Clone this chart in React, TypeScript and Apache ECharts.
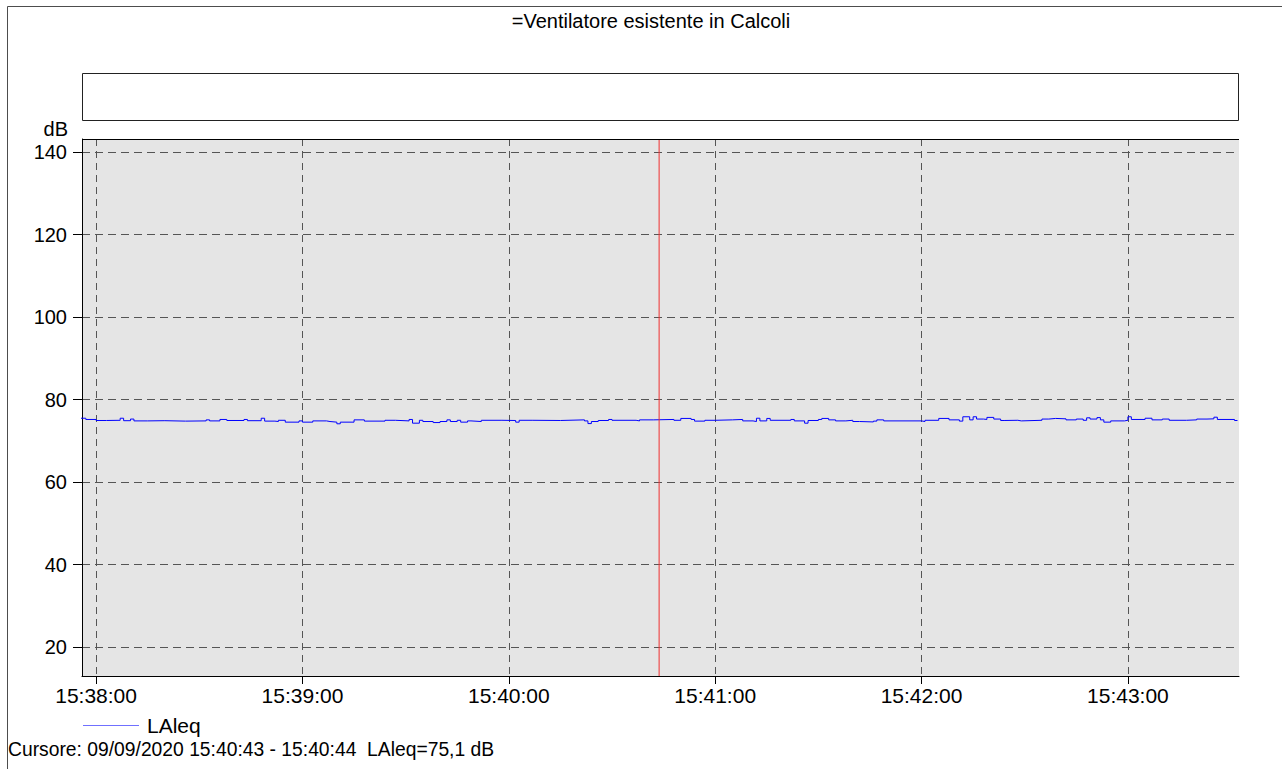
import React, { useEffect, useRef } from "react";
import * as echarts from "echarts";

// Measurement: LAleq, 1 s samples, seconds relative to 09/09/2020 15:38:00
const levelSteps: [number, number][] = [
  [-5, 75.5], [-3, 75.2], [0, 74.95], [3, 75.0], [7, 75.5], [8, 74.9], [10, 75.3], [11, 74.85],
  [15, 74.9], [20, 74.8], [26, 74.85], [32, 75.1], [33, 74.85], [36, 75.2], [38, 74.95], [43, 75.2],
  [44, 74.9], [48, 75.5], [49, 74.8], [52, 74.7], [53, 75.0], [55, 74.55], [59, 74.85], [60, 74.55],
  [63, 74.85], [67, 74.7], [68, 74.55], [70, 74.15], [71, 74.55], [75, 75.1], [78, 74.8], [84, 75.0],
  [87, 74.85], [91, 75.2], [92, 74.3], [94, 75.0], [95, 74.7], [98, 74.45], [100, 74.7], [102, 75.1],
  [103, 74.7], [105, 75.0], [106, 74.55], [108, 74.85], [109, 74.7], [112, 75.0], [118, 74.95], [122, 74.55],
  [123, 75.0], [127, 74.95], [135, 75.1], [142, 74.85], [143, 74.2], [144, 74.7], [146, 74.95], [149, 75.2],
  [150, 75.0], [157, 74.85], [158, 75.1], [162, 75.2], [168, 75.0], [170, 75.45], [173, 75.2], [174, 74.8],
  [177, 75.0], [180, 75.1], [185, 75.2], [188, 74.85], [191, 74.7], [192, 75.5], [193, 74.85], [195, 75.45],
  [196, 75.0], [202, 75.2], [203, 74.85], [206, 74.3], [207, 74.95], [210, 75.2], [211, 75.45], [213, 75.1],
  [215, 74.85], [218, 75.0], [220, 74.7], [222, 74.6], [226, 74.8], [227, 75.1], [229, 74.85], [240, 74.7],
  [241, 75.0], [245, 75.45], [248, 75.1], [251, 74.8], [252, 75.85], [254, 75.1], [255, 75.85], [256, 75.3],
  [258, 75.2], [259, 75.7], [261, 75.3], [263, 74.95], [264, 75.0], [268, 74.85], [269, 75.0], [275, 75.3],
  [277, 75.45], [279, 75.35], [282, 75.1], [285, 75.3], [287, 75.0], [288, 75.6], [289, 75.3], [291, 75.65],
  [292, 75.1], [293, 74.55], [295, 74.85], [299, 75.0], [300, 75.85], [301, 75.2], [305, 75.5], [307, 75.1],
  [310, 75.3], [312, 75.0], [317, 75.1], [320, 75.3], [323, 75.35], [325, 75.75], [326, 75.2], [331, 74.95],
  [332.3, 74.95],
];

const startClock = [15, 38, 0]; // time of second 0
const xRangeSec = [-4.1, 332.3];
const xTickSec = [0, 60, 120, 180, 240, 300];
const yRange = [13, 143.2];
const yTicks = [20, 40, 60, 80, 100, 120, 140];
const cursorSec = 163.7;
const titleText = "=Ventilatore esistente in Calcoli";
const seriesName = "LAleq";
const unitLabel = "dB";
const cursorText = "Cursore: 09/09/2020 15:40:43 - 15:40:44  LAleq=75,1 dB";

const FONT = "'Liberation Sans', Arial, Helvetica, sans-serif";

const pad = (n: number) => (n < 10 ? "0" + n : "" + n);
const clock = (sec: number) => {
  const total = startClock[0] * 3600 + startClock[1] * 60 + startClock[2] + Math.round(sec);
  const h = Math.floor(total / 3600);
  const m = Math.floor((total % 3600) / 60);
  const s = total % 60;
  return pad(h) + ":" + pad(m) + ":" + pad(s);
};

export default function App() {
  const ref = useRef<HTMLDivElement>(null);
  useEffect(() => {
    if (!ref.current) return;
    const chart = echarts.init(ref.current, undefined, { renderer: "svg" });

    chart.setOption({
      animation: false,
      backgroundColor: "#ffffff",
      textStyle: { fontFamily: FONT },
      grid: {
        left: 82,
        right: 43,
        top: 139,
        bottom: 93,
        show: true,
        backgroundColor: "#e5e5e5",
        borderWidth: 0,
      },
      xAxis: {
        type: "value",
        min: xRangeSec[0],
        max: xRangeSec[1],
        axisLine: { show: true, onZero: false, lineStyle: { color: "#000", width: 1 } },
        axisTick: { show: true, length: 8, lineStyle: { color: "#000" }, customValues: xTickSec },
        axisLabel: {
          customValues: xTickSec,
          formatter: (v: number) => clock(v),
          color: "#000",
          fontSize: 21,
          fontFamily: FONT,
          margin: 9,
        },
        splitLine: {
          show: true,
          lineStyle: { color: "#555", width: 1, type: [7, 5] },
        },
      },
      yAxis: {
        type: "value",
        min: yRange[0],
        max: yRange[1],
        axisLine: { show: true, onZero: false, lineStyle: { color: "#000", width: 1 } },
        axisTick: { show: true, length: 9, lineStyle: { color: "#000" }, customValues: yTicks },
        axisLabel: {
          customValues: yTicks,
          color: "#000",
          fontSize: 20,
          fontFamily: FONT,
          margin: 15,
        },
        splitLine: {
          show: true,
          lineStyle: { color: "#555", width: 1, type: [8, 5] },
        },
      },
      series: [
        {
          name: seriesName,
          type: "line",
          step: "end",
          data: levelSteps,
          showSymbol: false,
          symbol: "none",
          clip: true,
          lineStyle: { color: "#0000ff", width: 1 },
          z: 3,
        },
        {
          name: "cursor",
          type: "line",
          data: [
            [cursorSec, yRange[0]],
            [cursorSec, yRange[1]],
          ],
          showSymbol: false,
          symbol: "none",
          lineStyle: { color: "#f03030", width: 1 },
          itemStyle: { color: "#f03030" },
          z: 4,
          silent: true,
        },
      ],
      graphic: [
        {
          type: "polyline",
          shape: { points: [[7.5, 769], [7.5, 6.5], [1282, 6.5]] },
          style: { stroke: "#4d4d4d", lineWidth: 1, fill: "none" },
          silent: true,
        },
        {
          type: "rect",
          shape: { x: 82.5, y: 73.5, width: 1156, height: 47 },
          style: { stroke: "#222", lineWidth: 1, fill: "#fff" },
          silent: true,
        },
        {
          type: "rect",
          shape: { x: 1237.5, y: 140, width: 1.5, height: 535.5 },
          style: { fill: "#e5e5e5" },
          silent: true,
          z: 5,
        },
        {
          type: "rect",
          shape: { x: 1239, y: 140, width: 4, height: 535.5 },
          style: { fill: "#ffffff" },
          silent: true,
          z: 5,
        },
        {
          type: "line",
          shape: { x1: 82, y1: 139.5, x2: 1239, y2: 139.5 },
          style: { stroke: "#000", lineWidth: 1 },
          silent: true,
          z: 10,
        },
        {
          type: "text",
          x: 651,
          y: 21,
          style: {
            text: titleText,
            fontSize: 20,
            fontFamily: FONT,
            fill: "#000",
            textAlign: "center",
            textVerticalAlign: "middle",
          },
        },
        {
          type: "text",
          x: 68,
          y: 129,
          style: {
            text: unitLabel,
            fontSize: 20,
            fontFamily: FONT,
            fill: "#000",
            textAlign: "right",
            textVerticalAlign: "middle",
          },
        },
        {
          type: "line",
          shape: { x1: 83, y1: 725.5, x2: 139, y2: 725.5 },
          style: { stroke: "#7070ff", lineWidth: 1 },
          silent: true,
        },
        {
          type: "text",
          x: 147,
          y: 725,
          style: {
            text: seriesName,
            fontSize: 21,
            fontFamily: FONT,
            fill: "#000",
            textAlign: "left",
            textVerticalAlign: "middle",
          },
        },
        {
          type: "text",
          x: 8,
          y: 749,
          style: {
            text: cursorText,
            fontSize: 19.3,
            fontFamily: FONT,
            fill: "#000",
            textAlign: "left",
            textVerticalAlign: "middle",
          },
        },
      ],
    });
    return () => chart.dispose();
  }, []);

  return (
    <div
      ref={ref}
      style={{ position: "fixed", left: 0, top: 0, width: 1282, height: 769, background: "#fff" }}
    />
  );
}
